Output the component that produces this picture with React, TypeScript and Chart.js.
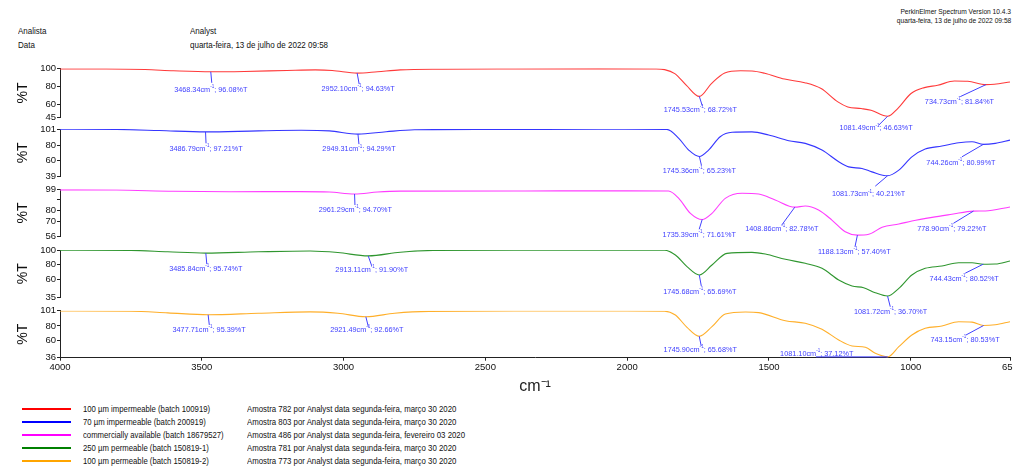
import React, { useEffect, useRef } from 'react';
import { Chart, registerables } from 'chart.js';

Chart.register(...registerables);

const FONT = '"Liberation Sans", Arial, Helvetica, sans-serif';

// ---------------- data ----------------
const seriesNames = [
  '100 µm impermeable (batch 100919)',
  '70 µm impermeable (batch 200919)',
  'commercially available (batch 18679527)',
  '250 µm permeable (batch 150819-1)',
  '100 µm permeable (batch 150819-2)',
];

const sampleInfo = [
  'Amostra 782 por Analyst data segunda-feira, março 30 2020',
  'Amostra 803 por Analyst data segunda-feira, março 30 2020',
  'Amostra 486 por Analyst data segunda-feira, fevereiro 03 2020',
  'Amostra 781 por Analyst data segunda-feira, março 30 2020',
  'Amostra 773 por Analyst data segunda-feira, março 30 2020',
];

// [wavenumber cm-1, %T]
const spectrum100Impermeable: [number, number][] = [
  [4000, 99.3], [3850, 99.2], [3700, 98.6], [3600, 97.2], [3468, 96.1], [3350, 96.5],
  [3200, 97.6], [3100, 98.2], [3040, 97.6], [2952, 94.6], [2880, 96.2], [2800, 98.2],
  [2650, 99.0], [2400, 99.3], [2100, 99.4], [1900, 99.2], [1868, 98.5], [1832, 94.1],
  [1791, 81], [1745.5, 68.7], [1703, 83], [1656, 94.8], [1600, 97.2], [1560, 97],
  [1515, 94.5], [1445, 88], [1374, 84], [1316, 77.4], [1257, 62.6], [1222, 57],
  [1175, 55.2], [1140, 53.3], [1081.5, 46.6], [1046, 55.2], [999, 71.9], [952, 78.5],
  [905, 81.1], [846, 85.9], [799, 85.6], [735, 81.8], [705, 82.2], [650, 84.8],
];

const spectrum70Impermeable: [number, number][] = [
  [4000, 100.6], [3800, 100.4], [3650, 99], [3486.8, 97.2], [3300, 98.6], [3150, 99.3],
  [3050, 98.5], [2949.3, 94.3], [2850, 97.5], [2750, 100], [2500, 100.5], [2100, 100.6],
  [1860, 100.5], [1818, 88.8], [1783, 73.6], [1745.4, 65.2], [1713, 73.6], [1672, 91],
  [1630, 96.7], [1560, 97.3], [1501, 93.2], [1430, 85.7], [1372, 82.3], [1313, 73.6],
  [1254, 58.4], [1219, 51.8], [1172, 49.7], [1137, 45.3], [1081.7, 40.2], [1042, 47.5],
  [996, 64.8], [949, 74.9], [890, 78.8], [831, 83.1], [784, 84.5], [744.3, 81],
  [702, 82.3], [650, 86.6],
];

const spectrumCommercial: [number, number][] = [
  [4000, 98.5], [3800, 98.3], [3600, 97.2], [3400, 96.8], [3154, 96.9], [3050, 96.5],
  [2961.3, 94.7], [2880, 96.5], [2800, 97.3], [2400, 97.5], [2000, 97.6], [1854, 97.4],
  [1818, 90.8], [1777, 77.2], [1735.4, 71.6], [1701, 77.2], [1654, 90.8], [1595, 95.4],
  [1536, 94.7], [1478, 89.3], [1408.9, 82.8], [1372, 83.8], [1325, 80.2], [1278, 71.1],
  [1231, 60.5], [1188.1, 57.4], [1148, 58.2], [1101, 64.5], [1042, 67.5], [996, 70.2],
  [925, 73.5], [855, 76.3], [778.9, 79.2], [737, 79.3], [650, 83],
];

const spectrum250Permeable: [number, number][] = [
  [4000, 99.8], [3750, 99.5], [3620, 97.5], [3485.8, 95.7], [3300, 97.5], [3118, 98.6],
  [3020, 96.5], [2913.1, 91.9], [2800, 97], [2684, 99.4], [2400, 99.8], [2000, 99.8],
  [1868, 99.7], [1830, 93.1], [1789, 77.1], [1745.7, 65.7], [1701, 79.4], [1648, 95.4],
  [1560, 96.8], [1513, 94.5], [1442, 87.2], [1372, 81.7], [1313, 74.8], [1254, 58.7],
  [1207, 50.5], [1166, 48.2], [1125, 41.3], [1081.7, 36.7], [1042, 47.3], [996, 65.6],
  [949, 74.8], [890, 78], [831, 82.5], [784, 82.5], [744.4, 80.5], [702, 80.7], [650, 84.9],
];

const spectrum100Permeable: [number, number][] = [
  [4000, 100.5], [3750, 100.2], [3620, 98], [3477.7, 95.4], [3300, 97.5], [3118, 99.4],
  [3020, 97.5], [2921.5, 92.7], [2820, 97.5], [2700, 100], [2400, 100.5], [2000, 100.5],
  [1868, 100.3], [1830, 95], [1789, 78], [1745.9, 65.7], [1701, 78.9], [1654, 96.4],
  [1583, 99.2], [1536, 98.3], [1442, 87.2], [1372, 83.6], [1313, 75.3], [1254, 60.5],
  [1207, 52.2], [1160, 50.4], [1125, 42], [1081.1, 37.1], [1042, 51.2], [996, 67.4],
  [949, 76.6], [890, 79.8], [831, 85.8], [784, 85.2], [743.2, 80.5], [702, 81.6], [650, 85.8],
];

const peaks100Impermeable: [number, number][] = [
  [3468.34, 96.08], [2952.10, 94.63], [1745.53, 68.72], [1081.49, 46.63], [734.73, 81.84],
];
const peaks70Impermeable: [number, number][] = [
  [3486.79, 97.21], [2949.31, 94.29], [1745.36, 65.23], [1081.73, 40.21], [744.26, 80.99],
];
const peaksCommercial: [number, number][] = [
  [2961.29, 94.70], [1735.39, 71.61], [1408.86, 82.78], [1188.13, 57.40], [778.90, 79.22],
];
const peaks250Permeable: [number, number][] = [
  [3485.84, 95.74], [2913.11, 91.90], [1745.68, 65.69], [1081.72, 36.70], [744.43, 80.52],
];
const peaks100Permeable: [number, number][] = [
  [3477.71, 95.39], [2921.49, 92.66], [1745.90, 65.68], [1081.10, 37.12], [743.15, 80.53],
];

const yTicks100Impermeable = [100, 80, 60, 45];
const yTicks70Impermeable = [101, 80, 60, 39];
const yTicksCommercial = [99, 90, 80, 70, 56];
const yTicks250Permeable = [100, 80, 60, 35];
const yTicks100Permeable = [101, 80, 60, 36];
const unlabeledYTicks: number[][] = [[], [], [90], [], []];

const xTickValues = [4000, 3500, 3000, 2500, 2000, 1500, 1000, 650];
const X_MIN = 650;
const X_MAX = 4000;

// ---------------- styles / layout ----------------
const seriesColors = ['#ff0000', '#0000ff', '#ff00ff', '#008000', '#ffa500'];
const lineColors = ['#ff3a3a', '#3535ff', '#ff3cff', '#2f962f', '#ffaf2a'];
const ANNOT_COLOR = '#4040ff';
const AXIS_COLOR = '#222';
const CANVAS_W = 1013;
const Y_AXIS_W = 60;
const X_AXIS_H = 38;

// chart-area top / bottom (px) of each panel
const panelAreas: [number, number][] = [
  [68.3, 117.7],
  [129, 176.7],
  [189.3, 236.7],
  [250, 297.3],
  [310.7, 357.7],
];

// per label: leader end dx, dy ; text centre dx, dy (relative to the peak pixel)
const labelOffsets: number[][][] = [
  [[1, 11, 0, 17.5], [2, 11, 1, 16], [3, 9.5, 1, 13], [-9, 9, -11.5, 12], [-25.7, 12, -26.5, 17]],
  [[0.5, 11.4, 0.5, 17], [1, 10, 1, 15], [2, 8.6, 0, 14.3], [-12.3, 10.4, -19, 18.4], [-21.3, 12.4, -22.3, 18]],
  [[0.4, 11, 0.7, 16], [-3, 9.8, -3, 15.5], [-13, 17.8, -13, 21.5], [-2.4, 11.6, -3, 16.6], [-20, 12.2, -21.7, 17.2]],
  [[1, 11, 0, 16], [3.5, 10, 3.5, 14], [2, 11, 0.5, 16.8], [2.7, 10.7, 3, 15.7], [-18, 9, -19, 14.8]],
  [[1.2, 10.2, 1, 15.2], [2.5, 10, 1, 13.3], [2, 9.8, 1, 13.8], [-71.8, 0, -71, -3.5], [-17.6, 9.5, -18.6, 13.8]],
];

const panelSpectra = [spectrum100Impermeable, spectrum70Impermeable, spectrumCommercial, spectrum250Permeable, spectrum100Permeable];
const panelPeaks = [peaks100Impermeable, peaks70Impermeable, peaksCommercial, peaks250Permeable, peaks100Permeable];
const panelTicks = [yTicks100Impermeable, yTicks70Impermeable, yTicksCommercial, yTicks250Permeable, yTicks100Permeable];

Chart.defaults.font.family = FONT;
Chart.defaults.color = '#111';

function drawPeakText(ctx: CanvasRenderingContext2D, cx: number, cy: number, wn: number, t: number) {
  const a = wn.toFixed(2) + 'cm';
  const s = '-1';
  const b = '; ' + t.toFixed(2) + '%T';
  const main = `8px ${FONT}`;
  const sup = `5px ${FONT}`;
  ctx.save();
  ctx.font = main;
  const wa = ctx.measureText(a).width;
  const wb = ctx.measureText(b).width;
  ctx.font = sup;
  const ws = ctx.measureText(s).width;
  const total = wa + ws + wb;
  ctx.translate(cx, cy);
  ctx.scale(0.91, 1);
  ctx.fillStyle = ANNOT_COLOR;
  ctx.textAlign = 'left';
  ctx.textBaseline = 'middle';
  let x = -total / 2;
  ctx.font = main;
  ctx.fillText(a, x, 0);
  x += wa;
  ctx.font = sup;
  ctx.fillText(s, x, -3);
  x += ws;
  ctx.font = main;
  ctx.fillText(b, x, 0);
  ctx.restore();
}

function Panel({ index }: { index: number }) {
  const ref = useRef<HTMLCanvasElement>(null);
  const [areaTop, areaBottom] = panelAreas[index];
  const showX = index === panelAreas.length - 1;
  const canvasTop = Math.floor(areaTop - 9);
  const canvasH = showX
    ? Math.ceil(areaBottom - canvasTop + X_AXIS_H + 2)
    : Math.ceil(areaBottom - canvasTop + 24);
  const padTop = areaTop - canvasTop;
  const padBottom = canvasTop + canvasH - areaBottom - (showX ? X_AXIS_H : 0);

  useEffect(() => {
    const ticks = panelTicks[index];
    const hidden = unlabeledYTicks[index];
    const peaks = panelPeaks[index];
    const offs = labelOffsets[index];
    const peakPlugin = {
      id: 'peakLabels' + index,
      afterDatasetsDraw(chart: any) {
        const ctx: CanvasRenderingContext2D = chart.ctx;
        const xs = chart.scales.x;
        const ys = chart.scales.y;
        peaks.forEach(([wn, t], i) => {
          const [ldx, ldy, tdx, tdy] = offs[i];
          const px = xs.getPixelForValue(wn);
          const py = ys.getPixelForValue(t);
          ctx.save();
          ctx.strokeStyle = ANNOT_COLOR;
          ctx.lineWidth = 1;
          ctx.beginPath();
          ctx.moveTo(px, py);
          ctx.lineTo(px + ldx, py + ldy);
          ctx.stroke();
          ctx.restore();
          drawPeakText(ctx, px + tdx, py + tdy, wn, t);
        });
      },
    };

    const chart = new Chart(ref.current as HTMLCanvasElement, {
      type: 'line',
      data: {
        datasets: [
          {
            label: seriesNames[index],
            data: panelSpectra[index].map(([x, y]) => ({ x, y })),
            borderColor: lineColors[index],
            borderWidth: 1.1,
            pointRadius: 0,
            fill: false,
            cubicInterpolationMode: 'monotone',
          },
        ],
      },
      options: {
        animation: false,
        responsive: false,
        maintainAspectRatio: false,
        events: [],
        layout: { padding: { top: padTop, bottom: padBottom, left: 0, right: CANVAS_W - 1010 } },
        plugins: { legend: { display: false }, tooltip: { enabled: false } },
        scales: {
          x: {
            type: 'linear',
            reverse: true,
            min: X_MIN,
            max: X_MAX,
            display: showX,
            afterBuildTicks: (scale: any) => {
              scale.ticks = xTickValues.map((v) => ({ value: v }));
            },
            afterFit: (scale: any) => {
              if (showX) scale.height = X_AXIS_H;
              scale.paddingLeft = 0;
              scale.paddingRight = 0;
            },
            grid: { display: true, drawOnChartArea: false, drawTicks: true, tickLength: 3, color: AXIS_COLOR },
            border: { display: true, color: AXIS_COLOR, width: 1 },
            ticks: {
              autoSkip: false,
              maxRotation: 0,
              padding: 1,
              color: '#111',
              font: { size: 9.5, family: FONT },
              callback: (v: any) => String(v),
            },
            title: {
              display: true,
              text: 'cm⁻¹',
              color: '#222',
              font: { size: 16, family: FONT },
              padding: { top: 0, bottom: 0 },
            },
          },
          y: {
            type: 'linear',
            min: ticks[ticks.length - 1],
            max: ticks[0],
            afterBuildTicks: (scale: any) => {
              scale.ticks = ticks.map((v) => ({ value: v }));
            },
            afterFit: (scale: any) => {
              scale.width = Y_AXIS_W;
              scale.paddingTop = 0;
              scale.paddingBottom = 0;
            },
            grid: { display: true, drawOnChartArea: false, drawTicks: true, tickLength: 3, color: AXIS_COLOR },
            border: { display: true, color: AXIS_COLOR, width: 1 },
            ticks: {
              autoSkip: false,
              padding: 1,
              color: '#111',
              font: { size: 9.5, family: FONT },
              callback: (v: any) => (hidden.includes(Number(v)) ? '' : String(v)),
            },
            title: {
              display: true,
              text: '%T',
              color: '#111',
              font: { size: 14, family: FONT },
              padding: { top: 15, bottom: 0 },
            },
          },
        },
      } as any,
      plugins: [peakPlugin as any],
    });
    return () => chart.destroy();
  }, [index]);

  return (
    <canvas
      ref={ref}
      width={CANVAS_W}
      height={canvasH}
      style={{ position: 'absolute', left: 0, top: canvasTop, width: CANVAS_W, height: canvasH }}
    />
  );
}

function Txt({
  x, cy, size, sx, align = 'left', children,
}: { x: number; cy: number; size: number; sx: number; align?: 'left' | 'right'; children: React.ReactNode }) {
  return (
    <div
      style={{
        position: 'absolute',
        left: align === 'left' ? x : undefined,
        right: align === 'right' ? 1024 - x : undefined,
        top: cy - size * 0.69,
        fontSize: size,
        lineHeight: `${size * 1.4}px`,
        whiteSpace: 'nowrap',
        transform: `scaleX(${sx})`,
        transformOrigin: align === 'left' ? 'left center' : 'right center',
        color: '#111',
        fontFamily: FONT,
      }}
    >
      {children}
    </div>
  );
}

export default function App() {
  return (
    <div
      style={{
        position: 'absolute', left: 0, top: 0, width: 1024, height: 468,
        background: '#fff', overflow: 'hidden', fontFamily: FONT,
      }}
    >
      <Txt x={1011} cy={11.7} size={7.5} sx={0.885} align="right">PerkinElmer Spectrum Version 10.4.3</Txt>
      <Txt x={1011} cy={20.8} size={7.5} sx={0.885} align="right">quarta-feira, 13 de julho de 2022 09:58</Txt>
      <Txt x={18.3} cy={31.7} size={9} sx={0.89}>Analista</Txt>
      <Txt x={18.3} cy={45} size={9} sx={0.89}>Data</Txt>
      <Txt x={190} cy={31.7} size={9} sx={0.89}>Analyst</Txt>
      <Txt x={190} cy={45} size={9} sx={0.89}>quarta-feira, 13 de julho de 2022 09:58</Txt>

      {panelAreas.map((_, i) => (
        <Panel key={i} index={i} />
      ))}

      {seriesNames.map((name, i) => {
        const cy = 408.8 + i * 13.1;
        return (
          <React.Fragment key={name}>
            <div style={{ position: 'absolute', left: 22, top: cy - 1, width: 49, height: 2, background: seriesColors[i] }} />
            <Txt x={82.7} cy={cy} size={9} sx={0.86}>{name}</Txt>
            <Txt x={247.3} cy={cy} size={9} sx={0.87}>{sampleInfo[i]}</Txt>
          </React.Fragment>
        );
      })}
    </div>
  );
}
